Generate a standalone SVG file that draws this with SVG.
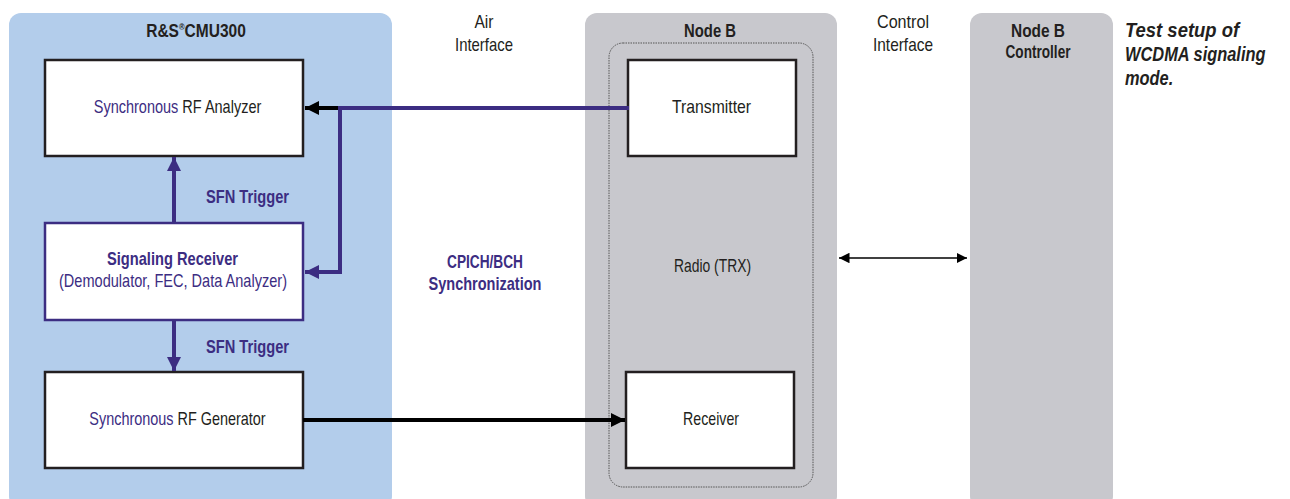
<svg xmlns="http://www.w3.org/2000/svg" width="1290" height="499" viewBox="0 0 1290 499">
<style>
text{font-family:"Liberation Sans",Arial,sans-serif;font-size:18.5px;fill:#231f20}
.c{text-anchor:middle}
.b{font-weight:bold}
.p{fill:#3c2d82}
.i{font-style:italic;font-weight:bold;font-size:20.5px}
.box{fill:#fff;stroke:#231f20;stroke-width:2.5}
.pbox{fill:#fff;stroke:#3c2d82;stroke-width:2.5}
.pl{stroke:#3c2d82;stroke-width:4;fill:none}
.bl{stroke:#000;stroke-width:4;fill:none}
</style>
<defs>
<marker id="ap" viewBox="0 0 10 10" refX="10" refY="5" markerWidth="3.5" markerHeight="3.5" orient="auto" markerUnits="strokeWidth"><path d="M0,0L10,5L0,10z" fill="#3c2d82"/></marker>
<marker id="ab" viewBox="0 0 10 10" refX="10" refY="5" markerWidth="3.5" markerHeight="3.5" orient="auto" markerUnits="strokeWidth"><path d="M0,0L10,5L0,10z" fill="#000"/></marker>
<marker id="at" viewBox="0 0 10 10" refX="10" refY="5" markerWidth="7" markerHeight="7" orient="auto-start-reverse" markerUnits="strokeWidth"><path d="M0,0L10,5L0,10z" fill="#000"/></marker>
</defs>
<g id="cmu300">
<rect x="9" y="13" width="383" height="495" rx="12" fill="#b3cdeb"/>
<text transform="translate(196,37) scale(0.84,1)" class="c b">R&amp;S<tspan font-size="9" dy="-7">®</tspan><tspan dy="7">CMU300</tspan></text>
</g>
<g id="analyzer">
<rect class="box" x="45" y="60" width="258" height="96"/>
<text transform="translate(177.5,113) scale(0.784,1)" class="c"><tspan class="p">Synchronous</tspan> RF Analyzer</text>
</g>
<g id="sigrx">
<rect class="pbox" x="45" y="223" width="258" height="97"/>
<text x="172.5" y="265" class="c b p" textLength="131" lengthAdjust="spacingAndGlyphs">Signaling Receiver</text>
<text x="173" y="287" class="c p" textLength="228" lengthAdjust="spacingAndGlyphs">(Demodulator, FEC, Data Analyzer)</text>
</g>
<g id="generator">
<rect class="box" x="45" y="372" width="258" height="96"/>
<text transform="translate(177.5,425) scale(0.78,1)" class="c"><tspan class="p">Synchronous</tspan> RF Generator</text>
</g>
<g id="nodeb">
<rect x="585" y="13" width="252" height="495" rx="12" fill="#c8c8cd"/>
<rect x="609" y="43" width="204" height="444" rx="14" fill="none" stroke="#555" stroke-width="1" stroke-dasharray="1.5,1"/>
<text x="710" y="37" class="c b" textLength="52" lengthAdjust="spacingAndGlyphs">Node B</text>
<text x="712.5" y="272" class="c" textLength="77" lengthAdjust="spacingAndGlyphs">Radio (TRX)</text>
</g>
<g id="transmitter">
<rect class="box" x="628" y="60" width="168" height="96"/>
<text x="711.5" y="113" class="c" textLength="79" lengthAdjust="spacingAndGlyphs">Transmitter</text>
</g>
<g id="receiver">
<rect class="box" x="626" y="372" width="168" height="96"/>
<text x="711" y="425" class="c" textLength="56" lengthAdjust="spacingAndGlyphs">Receiver</text>
</g>
<g id="controller">
<rect x="970" y="13" width="143" height="495" rx="12" fill="#c8c8cd"/>
<text x="1038" y="37" class="c b" textLength="54" lengthAdjust="spacingAndGlyphs">Node B</text>
<text x="1038" y="58" class="c b" textLength="65" lengthAdjust="spacingAndGlyphs">Controller</text>
</g>
<g id="labels">
<text x="484" y="28" class="c" textLength="19" lengthAdjust="spacingAndGlyphs">Air</text>
<text x="484" y="51" class="c" textLength="58" lengthAdjust="spacingAndGlyphs">Interface</text>
<text x="903" y="28" class="c" textLength="52" lengthAdjust="spacingAndGlyphs">Control</text>
<text x="903" y="51" class="c" textLength="60" lengthAdjust="spacingAndGlyphs">Interface</text>
<text x="485" y="268" class="c b p" textLength="76" lengthAdjust="spacingAndGlyphs">CPICH/BCH</text>
<text x="485" y="290" class="c b p" textLength="113" lengthAdjust="spacingAndGlyphs">Synchronization</text>
<text x="206" y="203" class="b p" textLength="83" lengthAdjust="spacingAndGlyphs">SFN Trigger</text>
<text x="206" y="353" class="b p" textLength="83" lengthAdjust="spacingAndGlyphs">SFN Trigger</text>
<text transform="translate(1125,37) scale(0.9,1)" class="i">Test setup of</text>
<text transform="translate(1125,61) scale(0.8,1)" class="i">WCDMA signaling</text>
<text transform="translate(1125,85) scale(0.8,1)" class="i">mode.</text>
</g>
<g id="connectors">
<path class="pl" d="M629,108H340V272H305" marker-end="url(#ap)"/>
<path class="bl" d="M338,108H305" marker-end="url(#ab)"/>
<path class="pl" d="M174,223V157" marker-end="url(#ap)"/>
<path class="pl" d="M174,320V371" marker-end="url(#ap)"/>
<path class="bl" d="M303,420H625" marker-end="url(#ab)"/>
<path d="M839,258H967" stroke="#000" stroke-width="1.5" fill="none" marker-start="url(#at)" marker-end="url(#at)"/>
</g>
</svg>
